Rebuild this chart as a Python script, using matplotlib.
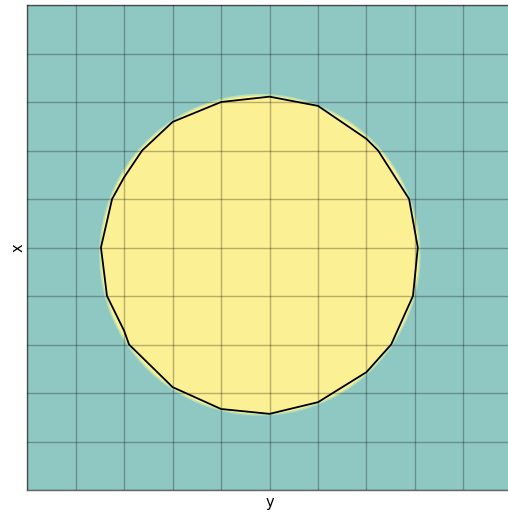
import matplotlib
matplotlib.use("Agg")
import matplotlib.pyplot as plt
from matplotlib.patches import Circle, Polygon

# grid extents (cells)
grid_ticks = list(range(0, 11))

# filled region (circle)
circle_center = (4.80, 4.85)
circle_radius = 3.30

# contour polyline vertices (data units)
contour_x = [5.0, 6.0, 7.0, 7.24, 7.88, 8.06, 7.96, 7.51, 7.0, 6.0, 5.0, 4.0, 3.0,
             2.10, 2.0, 1.645, 1.52, 1.75, 2.0, 2.37, 3.0, 4.0]
contour_y = [8.11, 7.92, 7.24, 7.0, 6.0, 5.0, 4.0, 3.0, 2.43, 1.81, 1.57, 1.67, 2.12,
             3.0, 3.28, 4.0, 5.0, 6.0, 6.45, 7.0, 7.59, 8.0]

teal = "#8FC7C3"
yellow = "#FCF094"

fig = plt.figure(figsize=(5.08, 5.13), dpi=100)
ax = fig.add_axes([27.3 / 508, 23 / 513, 484.5 / 508, 485 / 513])
ax.set_facecolor(teal)
ax.set_xlim(0, 10)
ax.set_ylim(0, 10)

circ = Circle(circle_center, circle_radius, facecolor=yellow, edgecolor="#B8E2B4",
              linewidth=1.2, zorder=1)
ax.add_patch(circ)

pts = list(zip(contour_x, contour_y))
ax.add_patch(Polygon(pts, closed=True, fill=False, edgecolor="black", linewidth=1.3, zorder=3))

ax.set_xticks(grid_ticks)
ax.set_yticks(grid_ticks)
ax.tick_params(length=0, labelbottom=False, labelleft=False)
ax.grid(True, color="black", alpha=0.28, linewidth=1.0)
ax.set_axisbelow(False)
for s in ax.spines.values():
    s.set_color("#666666")
    s.set_linewidth(1.0)

ax.set_xlabel("y", fontsize=10.5, labelpad=3.5)
ax.set_ylabel("x", fontsize=10.5, labelpad=1)

fig.savefig("out.png", dpi=100)
